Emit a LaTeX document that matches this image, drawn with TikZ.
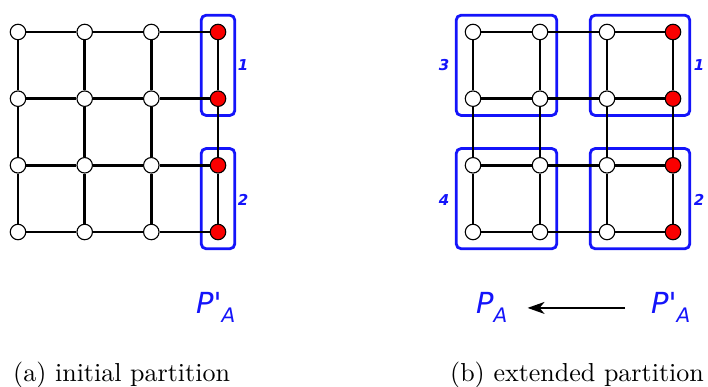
\documentclass[tikz,border=0pt]{standalone}
\usepackage{fontspec}
\usepackage{tikz}
\usepackage{xcolor}
\usetikzlibrary{arrows.meta,fit,backgrounds}

\newfontfamily\dejavu{DejaVu Sans}
\newfontfamily\capfont{lmroman10-regular}[Extension=.otf]
\definecolor{partblue}{RGB}{20,20,250}
\definecolor{partred}{RGB}{250,0,0}

\tikzset{
  vtx/.style={circle,draw=black,line width=1.1pt,fill=white,minimum size=15.5pt,inner sep=0pt},
  redvtx/.style={vtx,fill=partred},
  link/.style={line width=2.6pt,black},
  part/.style={draw=partblue,line width=2.8pt,rounded corners=5pt,inner sep=8.5pt},
  partnum/.style={text=partblue,font=\dejavu\bfseries\itshape\fontsize{15}{17}\selectfont},
  plabel/.style={text=partblue,font=\dejavu\itshape\fontsize{29}{31}\selectfont,inner sep=0pt},
  subcap/.style={font=\capfont\fontsize{26}{30}\selectfont,inner sep=0pt}
}
\newcommand{\psub}{\raisebox{-9pt}{\fontsize{20}{22}\selectfont A}}

\begin{document}
\begin{tikzpicture}[x=1pt,y=1pt]
  \useasboundingbox (0,0) rectangle (708,387);

  % (a) initial partition
  \foreach \i/\x in {1/18,2/84.7,3/151.3}
    \foreach \j/\y in {1/355,2/288.3,3/221.7,4/155}
      \node[vtx] (a\i\j) at (\x,\y) {};
  \foreach \j/\y in {1/355,2/288.3,3/221.7,4/155}
    \node[redvtx] (a4\j) at (218,\y) {};

  \begin{scope}[on background layer]
    \node[part,fit=(a41)(a42),inner xsep=8.5pt] (pa1) {};
    \node[part,fit=(a43)(a44),inner xsep=8.5pt] (pa2) {};
    \foreach \j in {1,...,4}
      \draw[link] (a1\j) -- (a2\j) -- (a3\j) -- (a4\j);
    \foreach \i in {1,...,4}
      \draw[link] (a\i1) -- (a\i2) -- (a\i3) -- (a\i4);
  \end{scope}
  \node[partnum] at (243,322) {1};
  \node[partnum] at (243,187) {2};

  % (b) extended partition
  \foreach \i/\x in {1/473,2/540,3/607}
    \foreach \j/\y in {1/355,2/288.3,3/221.7,4/155}
      \node[vtx] (b\i\j) at (\x,\y) {};
  \foreach \j/\y in {1/355,2/288.3,3/221.7,4/155}
    \node[redvtx] (b4\j) at (673,\y) {};

  \begin{scope}[on background layer]
    \node[part,fit=(b31)(b42)] (pb1) {};
    \node[part,fit=(b33)(b44)] (pb2) {};
    \node[part,fit=(b11)(b22)] (pb3) {};
    \node[part,fit=(b13)(b24)] (pb4) {};
    \foreach \j in {1,...,4}
      \draw[link] (b1\j) -- (b2\j) -- (b3\j) -- (b4\j);
    \foreach \i in {1,...,4}
      \draw[link] (b\i1) -- (b\i2) -- (b\i3) -- (b\i4);
  \end{scope}
  \node[partnum] at (699,322) {1};
  \node[partnum] at (699,187) {2};
  \node[partnum] at (444,322) {3};
  \node[partnum] at (444,187) {4};

  % labels
  \node[plabel,anchor=base west] (pla) at (196,73) {P\textquotesingle\psub};
  \node[plabel,anchor=base west] (plb) at (476,73) {P\psub};
  \node[plabel,anchor=base west] (plc) at (651,73) {P\textquotesingle\psub};
  \draw[-{Stealth[length=17pt,width=12pt,inset=5pt]},line width=1.4pt,shorten <=26pt,shorten >=20pt] (plc.west) -- (plb.east);

  \node[subcap,anchor=base west] (capa) at (13,5) {(a) initial partition};
  \node[subcap,anchor=base east] (capb) at (704,5) {(b) extended partition};
\end{tikzpicture}
\end{document}
